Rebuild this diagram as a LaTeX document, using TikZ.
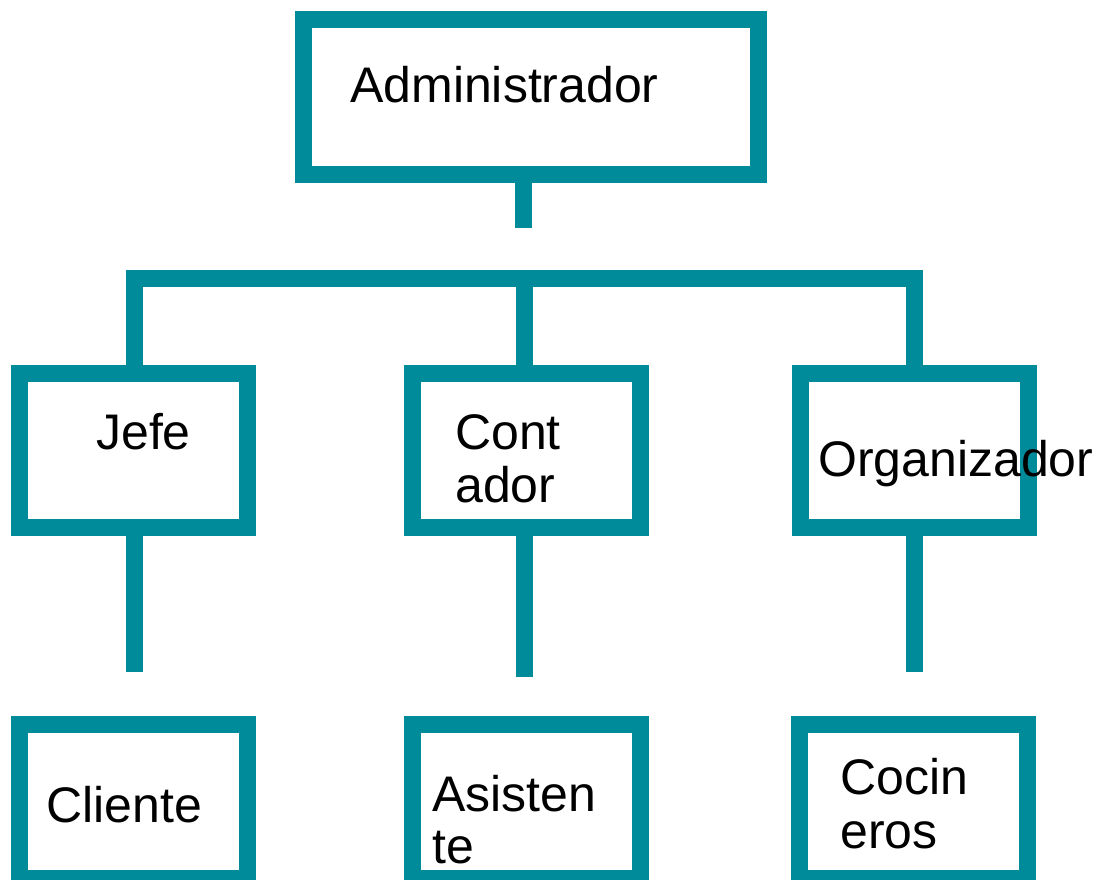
\documentclass[tikz,border=0pt]{standalone}
\usepackage{fontspec}
\setmainfont{Liberation Sans}
\definecolor{teal1}{RGB}{0,139,155}
\begin{document}
\begin{tikzpicture}[x=1pt,y=-1pt,
  box/.style={draw=teal1,line width=17pt,rectangle,inner sep=0pt,fill=white},
  conn/.style={draw=teal1,line width=17pt},
  lbl/.style={anchor=base west,inner sep=0pt,font=\fontsize{50}{53}\selectfont}]
\clip (0,0) rectangle (1103,879);
\fill[white] (0,0) rectangle (1103,879);
% boxes
\node[box,minimum width=455pt,minimum height=155pt] (adm) at (531,97) {};
\node[box,minimum width=228pt,minimum height=154pt] (jefe) at (133.5,450.5) {};
\node[box,minimum width=228pt,minimum height=154pt] (cont) at (526.5,450.5) {};
\node[box,minimum width=228pt,minimum height=154pt] (org) at (914.5,450.5) {};
\node[box,minimum width=228pt,minimum height=154.5pt] (cli) at (133.5,801.25) {};
\node[box,minimum width=228pt,minimum height=154.5pt] (asi) at (526.5,801.25) {};
\node[box,minimum width=228pt,minimum height=154.5pt] (coc) at (913.5,801.25) {};
% connector coordinates
\coordinate (s0) at (523.5,228);
\coordinate (bar) at (524,278.5);
\coordinate (s1) at (134,671.7);
\coordinate (s2) at (524,677);
\coordinate (s3) at (914,671.7);
% connectors
\draw[conn] (s0 |- adm.south) -- (s0);
\draw[conn] (s1 |- jefe.north) |- (bar) -| (s3 |- org.north);
\draw[conn] (bar) -- (bar |- cont.north);
\draw[conn] (s1 |- jefe.south) -- (s1);
\draw[conn] (s2 |- cont.south) -- (s2);
\draw[conn] (s3 |- org.south) -- (s3);
% labels
\node[lbl] (tadm) at (350,102) {Administrador};
\node[lbl] (tjefe) at (96,449) {Jefe};
\node[lbl] (tcont) at (455,449) {\parbox[t]{200pt}{\fontsize{50}{53}\selectfont Cont\\ador}};
\node[lbl] (torg) at (818,476) {Organizador};
\node[lbl] (tcli) at (46,822) {Cliente};
\node[lbl] (tasi) at (432,811) {\parbox[t]{200pt}{\fontsize{50}{52}\selectfont Asisten\\te}};
\node[lbl] (tcoc) at (840,794) {\parbox[t]{200pt}{\fontsize{50}{54}\selectfont Cocin\\eros}};
\end{tikzpicture}
\end{document}
